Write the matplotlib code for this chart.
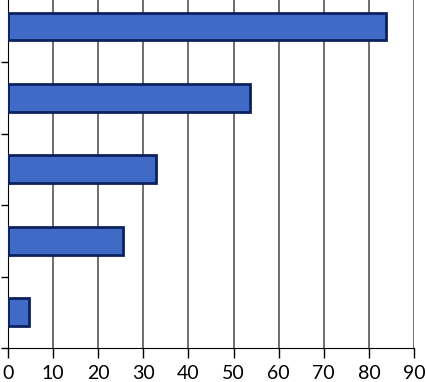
import matplotlib
matplotlib.use("Agg")
import matplotlib.pyplot as plt
import numpy as np

# data, top to bottom in the picture
categories = ["A", "B", "C", "D", "E"]
values = [83.8, 53.7, 32.8, 25.6, 4.7]
xticks = [0, 10, 20, 30, 40, 50, 60, 70, 80, 90]

fig = plt.figure(figsize=(4.27, 3.82), dpi=100)
ax = fig.add_axes([8 / 427, 34 / 382, 406 / 427, 348 / 382])

y = np.arange(len(categories))[::-1]
ax.barh(y, values, height=0.39, color="#3F6BC6", edgecolor="#0C2160",
        linewidth=2, zorder=3)

ax.set_xlim(0, 90)
ax.set_ylim(-0.5, 4.37)
ax.set_xticks(xticks)
ax.set_xticklabels([str(t) for t in xticks], fontsize=14, family="Lato")
ax.set_yticks(np.arange(-0.5, 4.5, 1.0))
ax.set_yticklabels([])
ax.tick_params(axis="x", length=7, width=1, pad=5, color="black")
ax.tick_params(axis="y", length=5, width=1, color="black")

ax.grid(axis="x", color="#555555", linewidth=1.2, zorder=0)
for s in ["top", "right"]:
    ax.spines[s].set_visible(False)
ax.spines["left"].set_color("black")
ax.spines["bottom"].set_color("black")

fig.savefig("out.png", dpi=100)
